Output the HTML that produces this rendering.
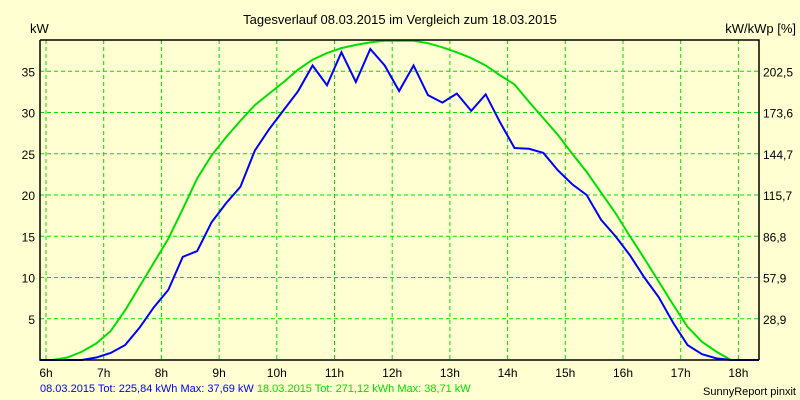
<!DOCTYPE html>
<html><head><meta charset="utf-8"><style>
body{margin:0;background:#FFFFD2;}
svg{display:block;font-family:"Liberation Sans",sans-serif;}
</style></head><body>
<svg id="chart" width="800" height="400">
<defs><clipPath id="plotclip"><rect x="40" y="39" width="719" height="322"/></clipPath></defs>
<rect width="800" height="400" fill="#FFFFD2"/>
<text x="400" y="24" text-anchor="middle" font-size="13" fill="#000">Tagesverlauf 08.03.2015 im Vergleich zum 18.03.2015</text>
<text x="30" y="33" font-size="13" fill="#000">kW</text>
<text x="796" y="33" text-anchor="end" font-size="13" fill="#000">kW/kWp [%]</text>
<g id="grid"></g><g id="series" clip-path="url(#plotclip)"></g><g id="axes"></g>
<text x="40" y="392" font-size="11" fill="#0000FF">08.03.2015 Tot: 225,84 kWh Max: 37,69 kW <tspan fill="#00E000">18.03.2015 Tot: 271,12 kWh Max: 38,71 kW</tspan></text>
<text x="796" y="395" text-anchor="end" font-size="11" fill="#000">SunnyReport pinxit</text>
</svg>
<script>
const hours=[6,7,8,9,10,11,12,13,14,15,16,17,18];
const yTicks=[5,10,15,20,25,30,35];
const rightLabels=["28,9","57,9","86,8","115,7","144,7","173,6","202,5"];
const startTime=6.12;
const stepHours=0.25;
const blue=[0,0,0,0.3,0.85,1.8,3.9,6.4,8.5,12.5,13.2,16.7,19,21,25.4,28,30.3,32.6,35.7,33.3,37.3,33.7,37.7,35.7,32.6,35.7,32.1,31.2,32.3,30.2,32.2,28.8,25.7,25.6,25.1,23,21.3,20,17,15,12.7,10,7.6,4.5,1.8,0.7,0.2,0,0,0];
const green=[0,0.3,1,2,3.5,6,8.9,11.8,14.7,18.3,22,24.8,27,29,30.9,32.3,33.7,35.2,36.4,37.2,37.8,38.2,38.5,38.7,38.7,38.7,38.4,37.9,37.3,36.6,35.7,34.5,33.4,31.3,29.3,27.3,25,22.8,20.3,17.8,15,12.3,9.5,6.7,4,2.2,1,0,0,0];
const L=40,R=759,T=40,B=360;
const xs=h=>46+(h-6)*57.7;
const ys=v=>360-v*8.25;
const ns="http://www.w3.org/2000/svg";
function mk(tag,attrs,parent){const e=document.createElementNS(ns,tag);for(const k in attrs)e.setAttribute(k,attrs[k]);parent.appendChild(e);return e;}
const grid=document.getElementById('grid'),axes=document.getElementById('axes'),series=document.getElementById('series');
hours.forEach(h=>{
 const l=mk('line',{x1:xs(h),x2:xs(h),y1:T,y2:B,stroke:'#00E000','stroke-dasharray':'4,3'},grid);
 
 
 const t=mk('text',{x:xs(h),y:377,'text-anchor':'middle','font-size':12},axes);
 t.textContent=h+'h';
 
 
});
yTicks.forEach((v,i)=>{
 const l=mk('line',{x1:L,x2:R,y1:ys(v),y2:ys(v),stroke:'#00E000','stroke-dasharray':'4,3'},grid);
 
 
 const t=mk('text',{x:35,y:ys(v)+5,'text-anchor':'end','font-size':12},axes);
 t.textContent=v;
 
 
 const t2=mk('text',{x:763,y:ys(v)+5,'font-size':12},axes);
 t2.textContent=rightLabels[i];
 
 
});
const box=mk('path',{d:`M${L},${T}H${R}V${B}M${L},${T}V${B}H${R}`,fill:'none',stroke:'#000','stroke-width':1.5},axes);


function line(vals,color,name){
 const pts=[xs(6)-6+','+ys(0)].concat(vals.map((v,i)=>xs(startTime+i*stepHours)+','+Math.max(T,ys(v))));
 const p=mk('polyline',{points:pts.join(' '),fill:'none',stroke:color,'stroke-width':2},series);
 
 
}
line(green,'#00E000','series-18-03-2015');
line(blue,'#0000FF','series-08-03-2015');
</script>
</body></html>
